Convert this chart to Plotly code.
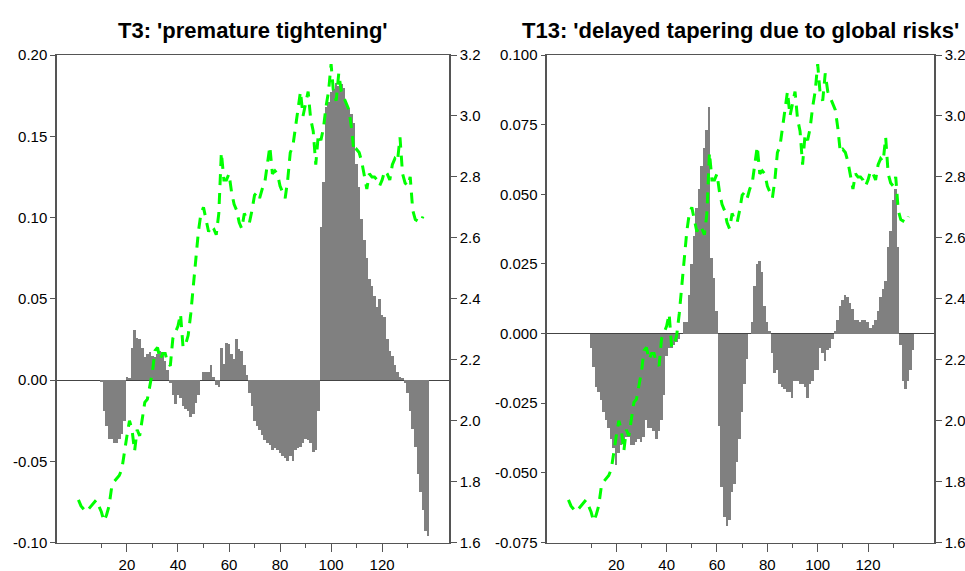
import plotly.graph_objects as go
from plotly.subplots import make_subplots

# Topic index (bars) per observation
obs = list(range(1, 139))

t3_values = [
    0, 0, 0, 0, 0, 0, 0, 0, 0,
    -0.001, -0.019, -0.028, -0.036, -0.036, -0.039, -0.039, -0.036, -0.033, -0.025,
    0.002, 0.001, 0.020, 0.031, 0.026, 0.025, 0.020, 0.014, 0.016, 0.017,
    0.015, 0.014, 0.016, 0.018, 0.017, 0.012, 0.006, -0.002, -0.009, -0.015,
    -0.009, -0.011, -0.016, -0.018, -0.019, -0.023, -0.021, -0.014, -0.009, 0.000,
    0.005, 0.005, 0.005, 0.009, 0.002, -0.003, -0.004, 0.020, 0.010, 0.023,
    0.022, 0.016, 0.013, 0.025, 0.019, 0.018, 0.009, 0.003, -0.008, -0.016,
    -0.025, -0.028, -0.031, -0.034, -0.037, -0.039, -0.040, -0.043, -0.042, -0.043,
    -0.045, -0.047, -0.048, -0.050, -0.047, -0.050, -0.043, -0.042, -0.041, -0.039,
    -0.036, -0.037, -0.039, -0.044, -0.043, -0.019, 0.094, 0.122, 0.168, 0.171,
    0.177, 0.179, 0.183, 0.181, 0.182, 0.180, 0.170, 0.167, 0.164, 0.158,
    0.133, 0.119, 0.099, 0.086, 0.075, 0.062, 0.058, 0.052, 0.045, 0.050,
    0.040, 0.039, 0.025, 0.018, 0.015, 0.009, 0.005, 0.002, 0.001, -0.002,
    -0.008, -0.019, -0.030, -0.041, -0.058, -0.069, -0.080, -0.093, -0.096,
]

t13_values = [
    0, 0, 0, 0, 0, 0, 0, 0, 0,
    -0.005, -0.012, -0.019, -0.021, -0.024, -0.028, -0.031, -0.034, -0.038, -0.041,
    -0.047, -0.043, -0.040, -0.038, -0.037, -0.037, -0.040, -0.040, -0.039, -0.038,
    -0.039, -0.037, -0.031, -0.034, -0.034, -0.035, -0.038, -0.035, -0.031, -0.022,
    -0.008, -0.005, -0.005, -0.004, -0.003, -0.002, 0.000, 0.004, 0.004, 0.014,
    0.025, 0.035, 0.045, 0.052, 0.060, 0.0665, 0.073, 0.0815, 0.027, 0.020,
    0.008, -0.033, -0.055, -0.066, -0.069, -0.067, -0.057, -0.054, -0.046, -0.038,
    -0.028, -0.018, -0.009, 0.000, 0.004, 0.017, 0.025, 0.026, 0.022, 0.010,
    0.004, 0.001, -0.007, -0.014, -0.013, -0.018, -0.019, -0.020, -0.021, -0.021,
    -0.023, -0.017, -0.017, -0.018, -0.018, -0.019, -0.023, -0.018, -0.017, -0.013,
    -0.013, -0.005, -0.007, -0.010, -0.006, -0.005, -0.002, 0.001, 0.005, 0.010,
    0.012, 0.014, 0.013, 0.011, 0.009, 0.005, 0.005, 0.004, 0.005, 0.005,
    0.004, 0.002, 0.003, 0.005, 0.008, 0.013, 0.016, 0.019, 0.031, 0.037,
    0.048, 0.052, 0.031, -0.004, -0.017, -0.020, -0.017, -0.013, -0.006,
]

# Yield series (right axis)
yield_obs = list(range(1, 137))
yield_values = [
    1.74, 1.72, 1.71, 1.70, 1.71, 1.72, 1.73, 1.74, 1.72, 1.70,
    1.67, 1.69, 1.72, 1.78, 1.80, 1.81, 1.82, 1.84, 1.90, 1.95,
    2.00, 1.97, 1.90, 1.97, 1.95, 2.00, 2.06, 2.07, 2.11, 2.16,
    2.23, 2.24, 2.20, 2.22, 2.22, 2.19, 2.18, 2.27, 2.29, 2.31,
    2.35, 2.24, 2.25, 2.28, 2.35, 2.44, 2.55, 2.62, 2.68, 2.70,
    2.66, 2.62, 2.64, 2.63, 2.61, 2.68, 2.88, 2.79, 2.79, 2.81,
    2.75, 2.71, 2.69, 2.65, 2.63, 2.68, 2.66, 2.65, 2.69, 2.74,
    2.75, 2.73, 2.76, 2.78, 2.84, 2.90, 2.81, 2.82, 2.81, 2.77,
    2.75, 2.73, 2.79, 2.88, 2.90, 2.96, 3.03, 3.08, 3.00, 3.04,
    3.08, 2.99, 2.95, 2.84, 2.94, 2.92, 2.96, 3.03, 3.08, 3.17,
    3.07, 3.05, 3.14, 3.08, 3.06, 3.04, 3.02, 2.96, 2.88, 2.89,
    2.88, 2.85, 2.81, 2.76, 2.81, 2.80, 2.80, 2.79, 2.77, 2.79,
    2.82, 2.81, 2.79, 2.84, 2.86, 2.85, 2.93, 2.81, 2.78, 2.77,
    2.80, 2.69, 2.66, 2.655, 2.65, 2.67,
]

titles = ["T3: 'premature tightening'", "T13: 'delayed tapering due to global risks'"]

left_ticks = [
    ([-0.10, -0.05, 0.00, 0.05, 0.10, 0.15, 0.20],
     ["-0.10", "-0.05", "0.00", "0.05", "0.10", "0.15", "0.20"], [-0.10, 0.20]),
    ([-0.075, -0.050, -0.025, 0.000, 0.025, 0.050, 0.075, 0.100],
     ["-0.075", "-0.050", "-0.025", "0.000", "0.025", "0.050", "0.075", "0.100"], [-0.075, 0.100]),
]
right_tickvals = [1.6, 1.8, 2.0, 2.2, 2.4, 2.6, 2.8, 3.0, 3.2]
right_ticktext = ["1.6", "1.8", "2.0", "2.2", "2.4", "2.6", "2.8", "3.0", "3.2"]
x_major = [20, 40, 60, 80, 100, 120]
x_minor = [10, 30, 50, 70, 90, 110, 130]

fig = make_subplots(rows=1, cols=2, specs=[[{"secondary_y": True}, {"secondary_y": True}]])

for col, vals in enumerate([t3_values, t13_values], start=1):
    fig.add_trace(go.Bar(x=obs, y=vals, marker=dict(color="#808080", line=dict(width=0)),
                         showlegend=False), row=1, col=col, secondary_y=False)
    fig.add_trace(go.Scatter(x=yield_obs, y=yield_values, mode="lines",
                             line=dict(color="#00ff00", width=3, dash="11px,8px"),
                             showlegend=False), row=1, col=col, secondary_y=True)

font = dict(family="Liberation Sans, Arial, sans-serif", size=15, color="#000")
axis_col = "#555"
y_top, y_bot = 1 - 55 / 571, 1 - 542.5 / 571
domains = [[57 / 965, 449 / 965], [547.3 / 965, 934 / 965]]

layout = dict(
    width=965, height=571, margin=dict(l=0, r=0, t=0, b=0, autoexpand=False),
    paper_bgcolor="white", plot_bgcolor="white", bargap=0, font=font,
)
for i in range(2):
    xa = "xaxis" if i == 0 else "xaxis2"
    ya = "yaxis" if i == 0 else "yaxis3"
    ya2 = "yaxis2" if i == 0 else "yaxis4"
    tv, tt, rng = left_ticks[i]
    layout[xa] = dict(
        domain=domains[i], range=[-7.4, 146.2], showgrid=False, zeroline=False,
        showline=True, linecolor=axis_col, linewidth=1, mirror=True, automargin=False,
        ticks="outside", ticklen=8, tickcolor=axis_col, tickvals=x_major,
        ticktext=[str(v) for v in x_major], tickfont=font,
        minor=dict(tickmode="array", tickvals=x_minor, ticks="outside", ticklen=4,
                   tickcolor=axis_col, showgrid=False),
    )
    layout[ya] = dict(
        domain=[y_bot, y_top], range=rng, showgrid=False, zeroline=True, automargin=False,
        zerolinecolor="#444", zerolinewidth=1, showline=True, linecolor=axis_col,
        linewidth=1.5, ticks="outside", ticklen=5, tickcolor=axis_col,
        tickvals=tv, ticktext=tt, tickfont=font,
    )
    layout[ya2] = dict(
        range=[1.6, 3.2], showgrid=False, zeroline=False, showline=True, automargin=False,
        linecolor=axis_col, linewidth=1.5, ticks="outside", ticklen=6,
        tickcolor=axis_col, tickvals=right_tickvals, ticktext=right_ticktext,
        tickfont=font, side="right",
    )

fig.update_layout(**layout)

for i, t in enumerate(titles):
    fig.add_annotation(
        x=(domains[i][0] + domains[i][1]) / 2, y=1 - 30 / 571, xref="paper", yref="paper",
        text="<b>" + t + "</b>", showarrow=False, xanchor="center", yanchor="middle",
        font=dict(family="Liberation Sans, Arial, sans-serif", size=22, color="#000"),
    )

fig.write_html("out.html")
